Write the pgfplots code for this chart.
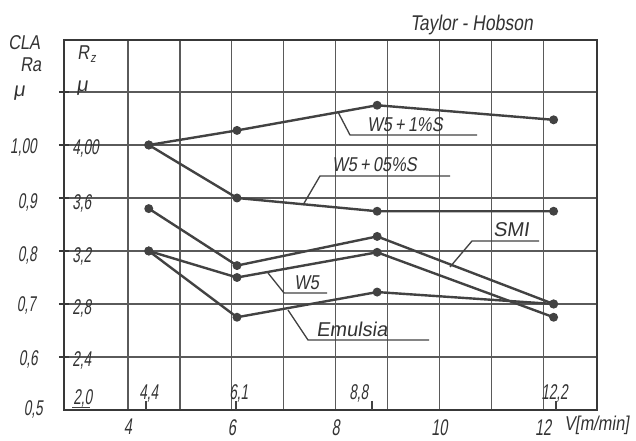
\documentclass[border=0pt]{standalone}
\usepackage{pgfplots}
\pgfplotsset{compat=1.18}
\usepackage{fontspec}
\setmainfont{Liberation Sans}[FakeSlant=0.15]
\newfontfamily\fA{Liberation Sans}[FakeSlant=0.15]
\newfontfamily\fB{Liberation Sans}[FakeSlant=0.15,FakeStretch=0.82]
\newfontfamily\fC{Liberation Sans}[FakeSlant=0.15,FakeStretch=0.64]
\definecolor{gridc}{HTML}{5A5A5A}
\definecolor{linec}{HTML}{424242}
\definecolor{framec}{HTML}{383838}
\definecolor{textc}{HTML}{333333}
\newcommand\num{\fC\fontsize{16}{16}\selectfont}
\newcommand\wrd{\fA\fontsize{15}{15}\selectfont}
\newcommand\wrdb{\fB\fontsize{15}{15}\selectfont}
\pgfplotsset{hand/.style={line width=1.8pt, color=linec, mark=*, mark size=2.4pt, mark options={solid, fill=linec, draw=linec}}}
\begin{document}
\begin{tikzpicture}
\begin{axis}[
  at={(0,0)}, anchor=south west,
  scale only axis, width=399.75pt, height=277.5pt,
  xmin=2.767, xmax=13.036, ymin=2.0, ymax=4.7925,
  xtick={4,5,...,12}, xticklabels={4,,6,,8,,10,,12},
  ytick={2.4,2.8,3.2,3.6,4.0,4.4}, yticklabels={},
  grid=major, major grid style={line width=1pt, color=gridc},
  axis line style={line width=2.2pt, color=framec},
  xtick style={draw=none},
  ytick style={line width=1pt, color=framec},
  ytick pos=left, tick align=center, major tick length=7.5pt,
  xticklabel style={font=\fC\fontsize{17}{17}\selectfont, text=textc, anchor=north, inner sep=0pt, yshift=-3pt},
  clip=false,
]
% W5 + 1%S
\addplot[hand] coordinates {(4.4,4.00) (6.1,4.11) (8.8,4.30) (12.2,4.19)};
% W5 + 0.5%S
\addplot[hand] coordinates {(4.4,4.00) (6.1,3.60) (8.8,3.50) (12.2,3.50)};
% SMI
\addplot[hand] coordinates {(4.4,3.52) (6.1,3.09) (8.8,3.31) (12.2,2.80)};
% W5
\addplot[hand] coordinates {(4.4,3.20) (6.1,3.00) (8.8,3.19) (12.2,2.70)};
% Emulsia
\addplot[hand] coordinates {(4.4,3.20) (6.1,2.70) (8.8,2.89) (12.2,2.80)};
\end{axis}
\begin{scope}[x=0.75pt, y=-0.75pt, shift={(-48pt,307.5pt)}, text=textc]
  % Ra labels
  \node[anchor=base east, inner sep=0pt] at (37,154) {\num 1,00};
  \node[anchor=base east, inner sep=0pt] at (37,209) {\num 0,9};
  \node[anchor=base east, inner sep=0pt] at (37,262) {\num 0,8};
  \node[anchor=base east, inner sep=0pt] at (36,312) {\num 0,7};
  \node[anchor=base east, inner sep=0pt] at (38,366) {\num 0,6};
  \node[anchor=base east, inner sep=0pt] at (43,416) {\num 0,5};
  % Rz labels
  \node[anchor=base west, inner sep=0pt] at (72,155) {\num 4,00};
  \node[anchor=base west, inner sep=0pt] at (72,210) {\num 3,6};
  \node[anchor=base west, inner sep=0pt] at (72,263) {\num 3,2};
  \node[anchor=base west, inner sep=0pt] at (72,315) {\num 2,8};
  \node[anchor=base west, inner sep=0pt] at (72,367) {\num 2,4};
  \node[anchor=base west, inner sep=0pt] at (73,405) {\num 2,0};
  \draw[line width=1pt, color=linec] (72,407.5) -- (90,407.5);
  % axis titles
  \node[anchor=base west, inner sep=0pt] at (8,50) {\wrdb CLA};
  \node[anchor=base west, inner sep=0pt] at (20,72) {\wrdb Ra};
  \node[anchor=base west, inner sep=0pt] at (13,97) {\wrd μ};
  \node[anchor=base west, inner sep=0pt] at (77,60) {\wrdb R\kern1pt{\fontsize{10}{10}\selectfont\raisebox{-2pt}{z}}};
  \node[anchor=base west, inner sep=0pt] at (76,92) {\wrd μ};
  \node[anchor=base west, inner sep=0pt] at (410,31) {\fB\fontsize{16}{16}\selectfont Taylor - Hobson};
  \node[anchor=base west, inner sep=0pt] at (564,431) {\fB\fontsize{15}{15}\selectfont V[m/min]};
  % inner x labels
  \node[anchor=base west, inner sep=0pt] at (139,400) {\num 4,4};
  \node[anchor=base west, inner sep=0pt] at (229,400) {\num 6,1};
  \node[anchor=base west, inner sep=0pt] at (349,400) {\num 8,8};
  \node[anchor=base west, inner sep=0pt] at (541,400) {\num 12,2};
  \foreach \xx in {146,236,372,556} \draw[line width=1pt, color=linec] (\xx,401) -- (\xx,410);
  % series labels and pointers
  \draw[line width=1pt, color=linec] (338,112) -- (350,135) -- (477,135);
  \node[anchor=base west, inner sep=0pt] at (367,132) {\wrdb W5\,+\,1\%S};
  \draw[line width=1pt, color=linec] (303,205) -- (320,176) -- (450,176);
  \node[anchor=base west, inner sep=0pt] at (332,172) {\wrdb W5\,+\,05\%S};
  \draw[line width=1pt, color=linec] (450,267) -- (472,241) -- (539,241);
  \node[anchor=base west, inner sep=0pt] at (493,237) {\wrd SMI};
  \draw[line width=1pt, color=linec] (268,273) -- (284,293) -- (327,293);
  \node[anchor=base west, inner sep=0pt] at (294,290) {\wrdb W5};
  \draw[line width=1pt, color=linec] (288,310) -- (308,340) -- (429,340);
  \node[anchor=base west, inner sep=0pt] at (316,337) {\wrd Emulsia};
\end{scope}
\pgfresetboundingbox
\begin{scope}[x=0.75pt, y=-0.75pt, shift={(-48pt,307.5pt)}]
  \path[use as bounding box] (0,0) rectangle (636,441);
\end{scope}
\end{tikzpicture}
\end{document}
